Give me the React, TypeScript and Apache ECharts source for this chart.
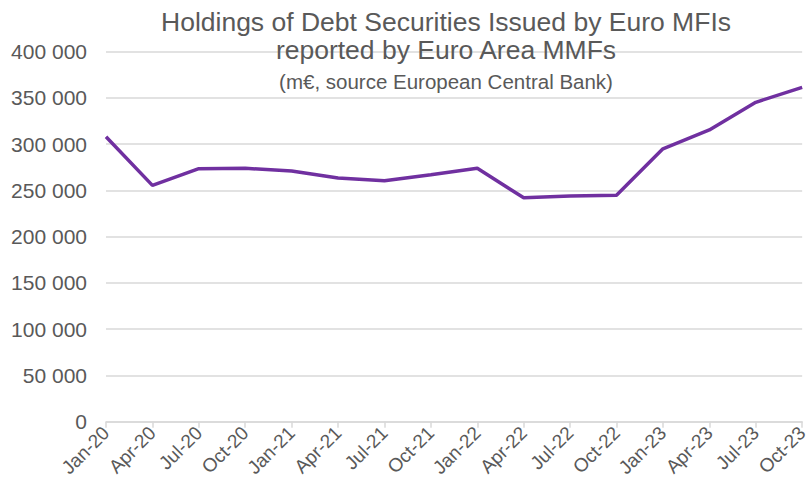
import React, { useEffect, useRef } from "react";
import * as echarts from "echarts";

const categories = [
  "Jan-20", "Apr-20", "Jul-20", "Oct-20",
  "Jan-21", "Apr-21", "Jul-21", "Oct-21",
  "Jan-22", "Apr-22", "Jul-22", "Oct-22",
  "Jan-23", "Apr-23", "Jul-23", "Oct-23",
];

const holdings = [
  308000, 255500, 273500, 274000,
  271000, 263500, 260500, 267000,
  274000, 242000, 244000, 244700,
  295000, 315400, 345300, 361500,
];

const titleLines = [
  "Holdings of Debt Securities Issued by Euro MFIs",
  "reported by Euro Area MMFs",
];
const subtitle = "(m€, source European Central Bank)";

const TEXT = "#595959";
const GRID = "#d9d9d9";
const LINE = "#7030A0";
const FONT = "'Liberation Sans', Arial, sans-serif";

function fmt(v: number): string {
  return String(v).replace(/\B(?=(\d{3})+(?!\d))/g, " ");
}

export default function App() {
  const ref = useRef<HTMLDivElement>(null);
  useEffect(() => {
    if (!ref.current) return;
    const chart = echarts.init(ref.current, undefined, { renderer: "svg" });
    chart.setOption({
      animation: false,
      textStyle: { fontFamily: FONT },
      grid: { left: 106, right: 7, top: 51.7, bottom: 73.3, containLabel: false },
      graphic: [
        {
          type: "text",
          x: 446,
          y: 22.3,
          style: {
            text: titleLines[0],
            fill: TEXT,
            font: `26.5px ${FONT}`,
            textAlign: "center",
            textVerticalAlign: "middle",
          },
          z: 10,
        },
        {
          type: "text",
          x: 446,
          y: 50.3,
          style: {
            text: titleLines[1],
            fill: TEXT,
            font: `26.5px ${FONT}`,
            textAlign: "center",
            textVerticalAlign: "middle",
          },
          z: 10,
        },
        {
          type: "text",
          x: 446,
          y: 81,
          style: {
            text: subtitle,
            fill: TEXT,
            font: `20.5px ${FONT}`,
            textAlign: "center",
            textVerticalAlign: "middle",
          },
          z: 10,
        },
      ],
      xAxis: {
        type: "category",
        data: categories,
        boundaryGap: false,
        axisLine: { show: true, lineStyle: { color: GRID, width: 1.5 } },
        axisTick: { show: true, length: 6, lineStyle: { color: GRID, width: 1.5 } },
        axisLabel: {
          rotate: 45,
          color: TEXT,
          fontSize: 19,
          fontFamily: FONT,
          margin: 8,
          interval: 0,
        },
        splitLine: { show: false },
      },
      yAxis: {
        type: "value",
        min: 0,
        max: 400000,
        interval: 50000,
        axisLine: { show: false },
        axisTick: { show: false },
        axisLabel: {
          color: TEXT,
          fontSize: 21,
          fontFamily: FONT,
          margin: 19,
          formatter: (v: number) => fmt(v),
        },
        splitLine: { lineStyle: { color: GRID, width: 1.5 } },
      },
      series: [
        {
          type: "line",
          data: holdings,
          symbol: "none",
          lineStyle: { color: LINE, width: 3.5 },
          itemStyle: { color: LINE },
          z: 5,
        },
      ],
    });
    return () => chart.dispose();
  }, []);
  return <div ref={ref} style={{ width: 811, height: 495, position: "absolute", left: 0, top: 0 }} />;
}
